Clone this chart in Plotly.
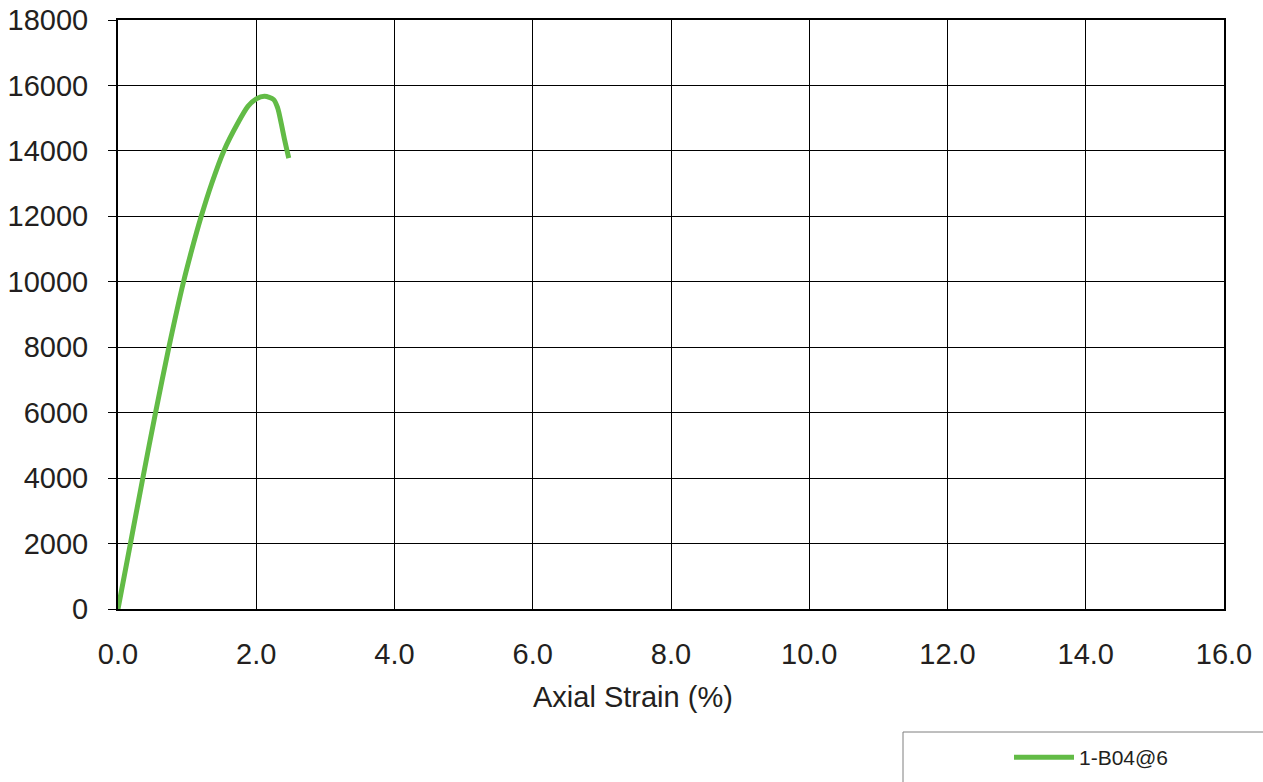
import plotly.graph_objects as go

# Axial strain (%) vs. load for specimen 1-B04@6
strain = [0.0, 0.18, 0.359, 0.543, 0.736, 0.948, 1.068, 1.204, 1.358, 1.531, 1.734, 1.879, 2.0, 2.12, 2.25, 2.31, 2.36, 2.41, 2.47]
load = [0, 2000, 4000, 6000, 8000, 10000, 10980, 12000, 13020, 14000, 14850, 15360, 15590, 15670, 15570, 15310, 14850, 14340, 13780]
series_name = "1-B04@6"

x_ticks = [0, 2, 4, 6, 8, 10, 12, 14, 16]
x_tick_text = ["0.0", "2.0", "4.0", "6.0", "8.0", "10.0", "12.0", "14.0", "16.0"]
y_ticks = [0, 2000, 4000, 6000, 8000, 10000, 12000, 14000, 16000, 18000]
y_tick_text = ["0", "2000", "4000", "6000", "8000", "10000", "12000", "14000", "16000", "18000"]
x_title = "Axial Strain (%)"

FONT = "Liberation Sans, Arial, sans-serif"
TEXT = "#231f20"
GREEN = "#62bb46"

# plot-area geometry in pixels
L, R, T, B, W, H = 118, 39, 20, 173, 1263, 782
PW, PH = W - L - R, H - T - B

fig = go.Figure()
fig.add_trace(go.Scatter(
    x=strain, y=load, mode="lines", name=series_name,
    line=dict(color=GREEN, width=5, shape="spline", smoothing=0.8),
))

fig.update_layout(
    width=W, height=H,
    margin=dict(l=L, r=R, t=T, b=B, autoexpand=False),
    paper_bgcolor="white", plot_bgcolor="white",
    font=dict(family=FONT, color=TEXT, size=29),
    showlegend=True,
    legend=dict(
        xref="container", yref="container",
        x=1009 / W, y=1 - 737 / H, xanchor="left", yanchor="top",
        bgcolor="rgba(0,0,0,0)", borderwidth=0,
        font=dict(family=FONT, size=21, color=TEXT),
        itemwidth=60,
    ),
    xaxis=dict(
        range=[0, 16], tickvals=x_ticks, ticktext=x_tick_text,
        showgrid=True, gridcolor="#000000", gridwidth=1,
        showline=True, linecolor="#000000", linewidth=2, mirror=True,
        ticks="", ticklabelstandoff=18, zeroline=False,
    ),
    yaxis=dict(
        range=[0, 18000], tickvals=y_ticks, ticktext=y_tick_text,
        showgrid=True, gridcolor="#000000", gridwidth=1,
        showline=True, linecolor="#000000", linewidth=2, mirror=True,
        ticks="outside", ticklen=8, tickcolor="#000000", tickwidth=1,
        ticklabelstandoff=14, zeroline=False,
    ),
    annotations=[dict(
        text=x_title, xref="paper", yref="paper",
        x=(633 - L) / PW, y=(T + PH - 697) / PH,
        xanchor="center", yanchor="middle", showarrow=False,
        font=dict(size=29, family=FONT, color=TEXT),
    )],
    shapes=[dict(
        type="rect", xref="paper", yref="paper",
        x0=(903 - L) / PW, x1=1.06,
        y0=(T + PH - 800) / PH, y1=(T + PH - 732) / PH,
        line=dict(color="#7f7f7f", width=1), fillcolor="rgba(0,0,0,0)", layer="above",
    )],
)

fig.write_html("out.html")
